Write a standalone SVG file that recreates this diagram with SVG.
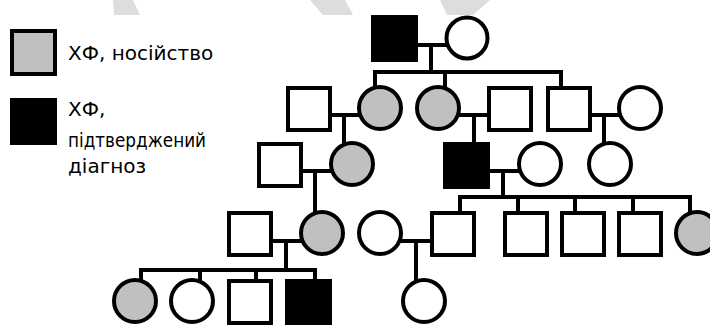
<svg xmlns="http://www.w3.org/2000/svg" width="710" height="325" viewBox="0 0 710 325">
<style>
.n{stroke:#000;stroke-width:4;fill:#fff}
.c{fill:#c0c0c0}
.a{fill:#000}
.l{stroke:#000;stroke-width:4;fill:none;stroke-linecap:square}
.t{font-family:"DejaVu Sans","Noto Sans",sans-serif;font-size:20px;fill:#000}
.w{fill:#dddddd}
</style>
<rect width="710" height="325" fill="#fff"/>
<g id="watermark">
<polygon class="w" points="113,0 133,0 140,15 114,15"/>
<polygon class="w" points="310,0 345,0 353,15 323,15"/>
<polygon class="w" points="440,0 490,0 473,15 447,15"/>
</g>
<g id="legend">
<g id="legend-carrier"><rect class="n c" x="12" y="31" width="43" height="43"/><text class="t" x="68" y="60">ХФ, носійство</text></g>
<g id="legend-affected"><rect class="n a" x="12" y="100" width="43" height="43"/><text class="t" x="68" y="116">ХФ,</text><text class="t" x="68" y="147" textLength="138" lengthAdjust="spacingAndGlyphs">підтверджений</text><text class="t" x="68" y="173">діагноз</text></g>
</g>
<g id="connectors">
<path class="l" d="M418,45H447M431,45V72M375,72H561M375,72V88M445,72V88M561,72V88"/>
<path class="l" d="M330,115H360M344,115V142M458,115H489M474,115V142M590,115H620M604,115V143"/>
<path class="l" d="M301,171H332M315,171V211M489,171H520M503,171V197M460,197H690M460,197V212M518,197V212M575,197V212M633,197V212M690,197V212"/>
<path class="l" d="M272,241H302M286,241V270M141,270H315M141,270V280M200,270V280M256,270V280M315,270V280M400,241H432M416,241V280"/>
</g>
<g id="g1-father"><rect class="n a" x="373" y="17" width="43" height="43"/></g>
<g id="g1-mother"><circle class="n" cx="467" cy="38" r="20.5"/></g>
<g id="g2-a"><rect class="n" x="288" y="88" width="42" height="42"/></g>
<g id="g2-b"><circle class="n c" cx="380" cy="108" r="21"/></g>
<g id="g2-c"><circle class="n c" cx="438" cy="108" r="21"/></g>
<g id="g2-d"><rect class="n" x="489" y="88" width="42" height="42"/></g>
<g id="g2-e"><rect class="n" x="548" y="88" width="42" height="42"/></g>
<g id="g2-f"><circle class="n" cx="640" cy="108" r="21"/></g>
<g id="g3-g"><rect class="n" x="259" y="144" width="42" height="42"/></g>
<g id="g3-h"><circle class="n c" cx="352" cy="164" r="21"/></g>
<g id="g3-i"><rect class="n a" x="445" y="144" width="43" height="43"/></g>
<g id="g3-j"><circle class="n" cx="540" cy="164" r="21"/></g>
<g id="g3-k"><circle class="n" cx="610" cy="164" r="21"/></g>
<g id="g4-l"><rect class="n" x="229" y="213" width="42" height="42"/></g>
<g id="g4-m"><circle class="n c" cx="322" cy="233" r="21"/></g>
<g id="g4-n"><circle class="n" cx="380" cy="233" r="21"/></g>
<g id="g4-o"><rect class="n" x="432" y="213" width="42" height="42"/></g>
<g id="g4-p"><rect class="n" x="505" y="213" width="42" height="42"/></g>
<g id="g4-q"><rect class="n" x="562" y="213" width="42" height="42"/></g>
<g id="g4-r"><rect class="n" x="619" y="213" width="42" height="42"/></g>
<g id="g4-s"><circle class="n c" cx="697" cy="233" r="21"/></g>
<g id="g5-a"><circle class="n c" cx="135" cy="301" r="21"/></g>
<g id="g5-b"><circle class="n" cx="192" cy="301" r="21"/></g>
<g id="g5-c"><rect class="n" x="229" y="281" width="42" height="42"/></g>
<g id="g5-d"><rect class="n a" x="287" y="281" width="43" height="43"/></g>
<g id="g5-e"><circle class="n" cx="424" cy="301" r="21"/></g>
</svg>
